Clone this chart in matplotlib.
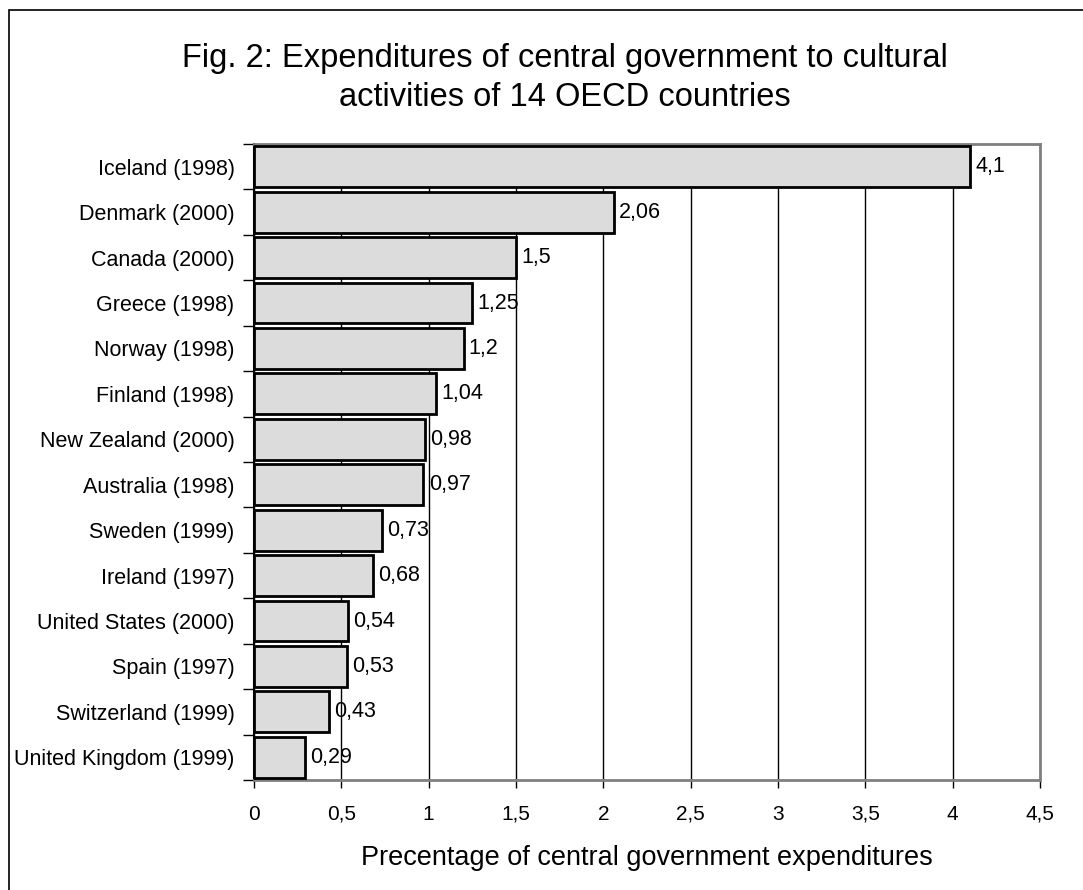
import matplotlib.pyplot as plt
from matplotlib.patches import Rectangle

plt.rcParams['font.family'] = ['Liberation Sans', 'DejaVu Sans']

countries = ["Iceland (1998)", "Denmark (2000)", "Canada (2000)", "Greece (1998)",
             "Norway (1998)", "Finland (1998)", "New Zealand (2000)", "Australia (1998)",
             "Sweden (1999)", "Ireland (1997)", "United States (2000)", "Spain (1997)",
             "Switzerland (1999)", "United Kingdom (1999)"]
values = [4.1, 2.06, 1.5, 1.25, 1.2, 1.04, 0.98, 0.97, 0.73, 0.68, 0.54, 0.53, 0.43, 0.29]
xticks = [0, 0.5, 1, 1.5, 2, 2.5, 3, 3.5, 4, 4.5]

fig = plt.figure(figsize=(10.83, 8.9), dpi=100)
ax = fig.add_axes([254 / 1083, 1 - 780 / 890, (1040 - 254) / 1083, (780 - 144) / 890])

# frame around the whole chart
fig.patches.append(Rectangle((9 / 1083, -0.01), 1.1, 1 - 10 / 890 + 0.01,
                             transform=fig.transFigure, fill=False,
                             edgecolor='black', linewidth=1.2))

ypos = list(range(len(countries)))
ax.barh(ypos, values, height=0.9, color='#dcdcdc', edgecolor='black',
        linewidth=2, zorder=3)
for y, v in zip(ypos, values):
    ax.text(v + 0.03, y, ("%g" % v).replace('.', ','), va='center', ha='left',
            fontsize=15.5, zorder=4)

ax.set_ylim(len(countries) - 0.5, -0.5)
ax.set_xlim(0, 4.5)
ax.set_yticks([y + 0.5 for y in ypos] + [-0.5])
ax.set_yticklabels([])
ax.set_yticks(ypos, minor=True)
ax.set_yticklabels(countries, minor=True, fontsize=15.5)
ax.tick_params(axis='y', which='minor', length=0, pad=14)
ax.tick_params(axis='y', which='major', length=8, width=1)

ax.set_xticks(xticks)
ax.set_xticklabels([("%g" % t).replace('.', ',') for t in xticks], fontsize=15)
ax.tick_params(axis='x', length=6, width=1, pad=12)
ax.xaxis.grid(True, color='black', linewidth=1, zorder=0)
ax.set_axisbelow(True)

for s in ['top', 'right', 'bottom']:
    ax.spines[s].set_color('#808080')
    ax.spines[s].set_linewidth(2)
ax.spines['left'].set_color('black')
ax.spines['left'].set_linewidth(1.5)

ax.set_xlabel("Precentage of central government expenditures", fontsize=19.5, labelpad=15)
fig.text(565 / 1083, 1 - 78 / 890,
         "Fig. 2: Expenditures of central government to cultural\nactivities of 14 OECD countries",
         ha='center', va='center', fontsize=23.5, linespacing=1.3)

fig.savefig("out.png", dpi=100)
